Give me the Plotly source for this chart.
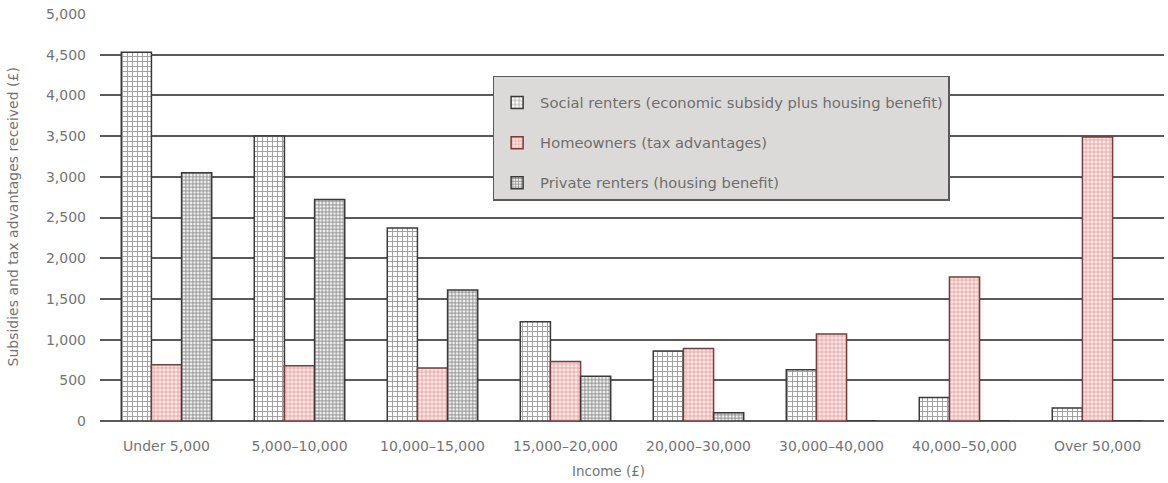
import plotly.graph_objects as go

categories = ["Under 5,000", "5,000–10,000", "10,000–15,000", "15,000–20,000",
              "20,000–30,000", "30,000–40,000", "40,000–50,000", "Over 50,000"]
social_renters = [4530, 3500, 2370, 1220, 860, 630, 290, 160]
homeowners = [690, 680, 650, 730, 890, 1070, 1770, 3490]
private_renters = [3050, 2720, 1610, 550, 100, 0, 0, 0]

y_ticks = [0, 500, 1000, 1500, 2000, 2500, 3000, 3500, 4000, 4500, 5000]
y_ticklabels = ["0", "500", "1,000", "1,500", "2,000", "2,500", "3,000",
                "3,500", "4,000", "4,500", "5,000"]

font_family = "DejaVu Sans, Liberation Sans, Arial, sans-serif"
text_col = "#747474"

fig = go.Figure()
fig.add_trace(go.Bar(
    x=categories, y=social_renters,
    name="Social renters (economic subsidy plus housing benefit)",
    legendgroup="a",
    marker=dict(color="white", line=dict(color="#3a3a3a", width=1.5),
                pattern=dict(shape="+", fgcolor="#a0a0a0", bgcolor="white",
                             size=5, solidity=0.35, fillmode="replace")),
))
fig.add_trace(go.Bar(
    x=categories, y=homeowners,
    name="Homeowners (tax advantages)",
    legendgroup="b",
    marker=dict(color="#f8dada", line=dict(color="#7a3b3b", width=1.5),
                pattern=dict(shape="+", fgcolor="#e39a9a", bgcolor="#fbe6e6",
                             size=4, solidity=0.35, fillmode="replace")),
))
fig.add_trace(go.Bar(
    x=categories, y=private_renters,
    name="Private renters (housing benefit)",
    legendgroup="c",
    marker=dict(color="white", line=dict(color="#3a3a3a", width=1.5),
                pattern=dict(shape="+", fgcolor="#7a7a7a", bgcolor="#f2f2f2",
                             size=3.5, solidity=0.4, fillmode="replace")),
))

fig.update_layout(
    width=1168, height=483,
    margin=dict(l=100, r=4, t=14, b=62),
    paper_bgcolor="white", plot_bgcolor="white",
    barmode="group", bargap=0.32, bargroupgap=0,
    font=dict(family=font_family, size=13, color=text_col),
    legend=dict(
        x=0.369, y=0.848, xanchor="left", yanchor="top",
        bgcolor="#dcdad8", bordercolor="#5a5a5a", borderwidth=1.5,
        font=dict(size=14.7, color="#6e6e6e", family=font_family),
        tracegroupgap=18, itemwidth=36,
        title=dict(text=" ", font=dict(size=7)),
    ),
    showlegend=True,
)
fig.update_xaxes(
    showgrid=False, showline=False, ticks="", ticklabelstandoff=15,
    tickfont=dict(size=14, color=text_col, family=font_family),
)
fig.update_yaxes(
    range=[0, 5000], tickvals=y_ticks, ticktext=y_ticklabels,
    showgrid=True, gridcolor="#5a5a5a", gridwidth=1.5,
    zeroline=True, zerolinecolor="#5a5a5a", zerolinewidth=1.5,
    showline=False, ticks="", ticklabelstandoff=13,
    tickfont=dict(size=14, color=text_col, family=font_family),
)
fig.add_annotation(text="Income (£)", xref="paper", yref="paper",
                   x=0.4775, y=0, yshift=-50, yanchor="middle", xanchor="center",
                   showarrow=False,
                   font=dict(size=13.5, color=text_col, family=font_family))
fig.add_annotation(text="Subsidies and tax advantages received (£)", xref="paper",
                   yref="paper", x=0, y=0.5, xshift=-88, xanchor="center",
                   yanchor="middle", textangle=-90, showarrow=False,
                   font=dict(size=14, color=text_col, family=font_family))

fig.write_html("out.html")
